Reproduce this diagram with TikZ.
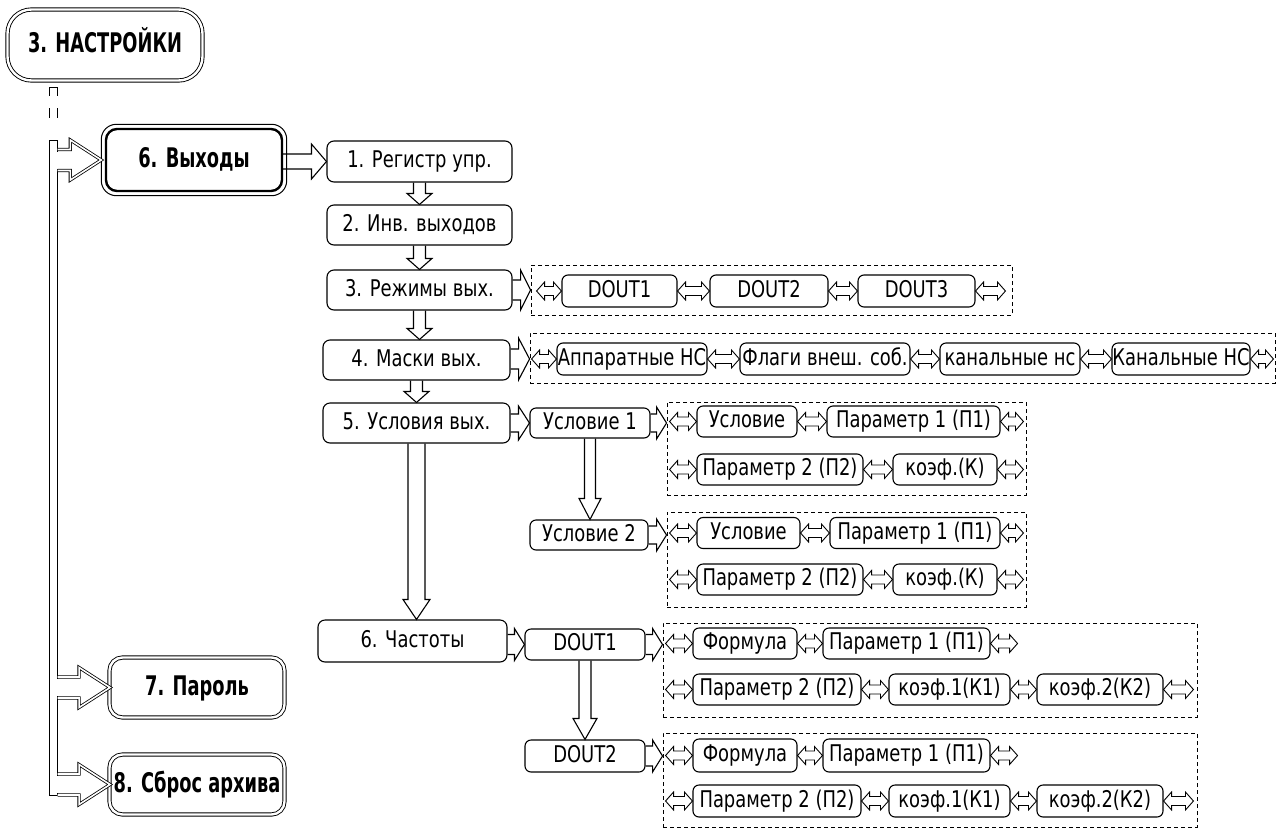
\documentclass[tikz,border=0pt]{standalone}
\usepackage{fontspec}
\setmainfont{DejaVu Sans}[FakeStretch=0.78]
\newfontfamily\bfam{DejaVu Sans}[FakeStretch=0.66]
\usetikzlibrary{calc}
\newcommand\fs{\fontsize{23}{26}\selectfont}
\newcommand\bfs{\bfam\bfseries\fontsize{27}{30}\selectfont}
\tikzset{
 mbox/.style={draw, line width=1.1pt, rounded corners=7pt, inner sep=0pt, font=\fs, text height=17pt, text depth=5pt},
 sbox/.style={draw, line width=1.1pt, rounded corners=6pt, inner sep=0pt, font=\fs, text height=17pt, text depth=5pt, minimum height=31},
 dbox/.style={draw, line width=0.9pt, dash pattern=on 4pt off 3pt, inner sep=0pt},
 bbox/.style={draw, line width=0.9pt, double, double distance=2.4pt, inner sep=0pt, font=\bfs, text height=20pt, text depth=5pt},
 blk/.style={draw, line width=1.1pt, line join=miter},
 dblk/.style={draw, line width=0.8pt, double, double distance=1.6pt},
}
\newcommand\harr[5]{\draw[blk] let \p1=(#1), \p2=(#2) in (\x1,\y1+#3pt) -- (\x2-#5pt,\y1+#3pt) -- (\x2-#5pt,\y1+#4pt) -- (\x2,\y1) -- (\x2-#5pt,\y1-#4pt) -- (\x2-#5pt,\y1-#3pt) -- (\x1,\y1-#3pt);}
\newcommand\varr[5]{\draw[blk] let \p1=(#1), \p2=(#2) in (\x1-#3pt,\y1) -- (\x1-#3pt,\y2+#5pt) -- (\x1-#4pt,\y2+#5pt) -- (\x1,\y2) -- (\x1+#4pt,\y2+#5pt) -- (\x1+#3pt,\y2+#5pt) -- (\x1+#3pt,\y1);}
\newcommand\dbl[3]{\draw[blk, line width=0.9pt] let \p1=(#1), \p2=(#2), \p3=(#3) in (\x1,\y3) -- (\x1+8pt,\y3+9pt) -- (\x1+8pt,\y3+4.5pt) -- (\x2-8pt,\y3+4.5pt) -- (\x2-8pt,\y3+9pt) -- (\x2,\y3) -- (\x2-8pt,\y3-9pt) -- (\x2-8pt,\y3-4.5pt) -- (\x1+8pt,\y3-4.5pt) -- (\x1+8pt,\y3-9pt) -- cycle;}
\newcommand\larr[2]{%
 \fill[white] let \p1=(bar.east |- #1.west) in (\x1-1.2pt,\y1-8.5pt) rectangle (\x1+1.2pt,\y1+8.5pt);
 \draw[dblk] let \p1=(bar.east |- #1.west), \p2=(#1.west), \n1={\x2+#2pt} in (\x1,\y1+10.5pt) -- (\n1-31pt,\y1+10.5pt) -- (\n1-31pt,\y1+20pt) -- (\n1,\y1) -- (\n1-31pt,\y1-20pt) -- (\n1-31pt,\y1-10.5pt) -- (\x1,\y1-10.5pt);}
\begin{document}
\begin{tikzpicture}[x=1pt,y=-1pt]
\fill[white] (0,0) rectangle (1288,828);
\useasboundingbox (0,0) rectangle (1288,828);

% left column
\node[bbox, rounded corners=24pt, minimum width=195, minimum height=71] (n3) at (105,45) {3. НАСТРОЙКИ};
\node[draw, line width=2.4pt, rounded corners=11pt, inner sep=0pt, font=\bfs, text height=20pt, text depth=5pt, minimum width=176, minimum height=62] (b6) at (194,160) {6. Выходы};
\draw[line width=1pt, rounded corners=15pt] ([shift={(-3.5pt,3.5pt)}]b6.north west) rectangle ([shift={(3.5pt,-3.5pt)}]b6.south east);
\node[bbox, rounded corners=13pt, minimum width=175, minimum height=60] (b7) at (197,687.5) {7. Пароль};
\node[bbox, rounded corners=13pt, minimum width=175, minimum height=60] (b8) at (197,784.5) {8. Сброс архива};

\node[draw, line width=1pt, minimum width=8, minimum height=655, inner sep=0pt] (bar) at (53,467.5) {};
\draw[line width=1pt] ([shift={(-4pt,44pt)}]bar.north) -- ([shift={(-4pt,52pt)}]bar.north) -- ([shift={(4pt,52pt)}]bar.north) -- ([shift={(4pt,44pt)}]bar.north);
\draw[line width=1pt] ([shift={(-4pt,22pt)}]bar.north) -- ([shift={(-4pt,32pt)}]bar.north) ([shift={(4pt,22pt)}]bar.north) -- ([shift={(4pt,32pt)}]bar.north);
\larr{b6}{-3.5}
\larr{b7}{1}
\larr{b8}{1}

% middle column
\node[mbox, minimum width=185, minimum height=41] (r1) at (419.5,161.5) {1. Регистр упр.};
\node[mbox, minimum width=185, minimum height=40] (r2) at (419.5,225) {2. Инв. выходов};
\node[mbox, minimum width=185, minimum height=40] (r3) at (419.5,290) {3. Режимы вых.};
\node[mbox, minimum width=187, minimum height=40] (r4) at (416.5,360) {4. Маски вых.};
\node[mbox, minimum width=187, minimum height=40] (r5) at (416.5,423) {5. Условия вых.};
\node[mbox, minimum width=189, minimum height=42] (r6) at (412.5,641) {6. Частоты};

\harr{b6.east |- r1.west}{r1.west}{7.5}{17.5}{15}
\varr{r1.south}{r2.north}{6}{12.5}{11}
\varr{r2.south}{r3.north}{6}{12.5}{11}
\varr{r3.south}{r4.north}{6}{12.5}{11}
\varr{r4.south}{r5.north}{6}{12.5}{11}
\varr{r5.south}{r6.north}{8.5}{13.5}{20}

% row 3
\node[dbox, minimum width=481, minimum height=50] (dr3) at (771.5,290) {};
\node[sbox, minimum width=115, minimum height=32] (d31) at (619.5,291) {DOUT1};
\node[sbox, minimum width=118, minimum height=32] (d32) at (769,291) {DOUT2};
\node[sbox, minimum width=117, minimum height=32] (d33) at (916.5,291) {DOUT3};
\coordinate (r3s) at ($(dr3.west)+(6,0)$);
\coordinate (r3e) at ($(dr3.east)+(-7,0)$);
\harr{r3.east}{dr3.west}{10}{20}{10}
\dbl{r3s}{d31.west}{d31}
\dbl{d31.east}{d32.west}{d31}
\dbl{d32.east}{d33.west}{d32}
\dbl{d33.east}{r3e}{d33}

% row 4
\node[dbox, minimum width=745, minimum height=50] (dr4) at (902.5,358) {};
\node[sbox, minimum width=150, minimum height=32] (m1) at (632,359) {Аппаратные НС};
\node[sbox, minimum width=170, minimum height=32] (m2) at (825,359) {Флаги внеш. соб.};
\node[sbox, minimum width=140, minimum height=32] (m3) at (1010,359) {канальные нс};
\node[sbox, minimum width=138, minimum height=32] (m4) at (1181,359) {Канальные НС};
\coordinate (r4s) at ($(dr4.west)+(2,0)$);
\coordinate (r4e) at ($(dr4.east)+(-2,0)$);
\harr{r4.east |- m1.west}{dr4.west}{10}{21}{11}
\dbl{r4s}{m1.west}{m1}
\dbl{m1.east}{m2.west}{m1}
\dbl{m2.east}{m3.west}{m2}
\dbl{m3.east}{m4.west}{m3}
\dbl{m4.east}{r4e}{m4}

% row 5
\node[sbox, minimum width=120, minimum height=30] (u1) at (590,423) {Условие 1};
\node[sbox, minimum width=118, minimum height=30] (u2) at (589,535) {Условие 2};
\harr{r5.east |- u1.west}{u1.west}{9}{17}{11}
\varr{u1.south}{u2.north}{5.5}{11}{21}

\node[dbox, minimum width=359, minimum height=93] (dA) at (846.5,448.5) {};
\node[sbox, minimum width=100] (a1) at (747,421.5) {Условие};
\node[sbox, minimum width=173] (a2) at (913.5,421.5) {Параметр 1 (П1)};
\node[sbox, minimum width=166] (a3) at (780,469.5) {Параметр 2 (П2)};
\node[sbox, minimum width=104] (a4) at (945,469.5) {коэф.(К)};
\coordinate (As) at ($(dA.west)+(3,0)$);
\coordinate (Ae) at ($(dA.east)+(-3,0)$);
\harr{u1.east}{dA.west |- u1.east}{9}{16}{10}
\dbl{As}{a1.west}{a1}
\dbl{a1.east}{a2.west}{a1}
\dbl{a2.east}{Ae}{a2}
\dbl{As}{a3.west}{a3}
\dbl{a3.east}{a4.west}{a3}
\dbl{a4.east}{Ae}{a4}

\node[dbox, minimum width=359, minimum height=95] (dB) at (846.5,559.5) {};
\node[sbox, minimum width=103] (bb1) at (748.5,533) {Условие};
\node[sbox, minimum width=170] (bb2) at (915,533) {Параметр 1 (П1)};
\node[sbox, minimum width=166] (bb3) at (780,579.5) {Параметр 2 (П2)};
\node[sbox, minimum width=104] (bb4) at (945,579.5) {коэф.(К)};
\coordinate (Bs) at ($(dB.west)+(3,0)$);
\coordinate (Be) at ($(dB.east)+(-3,0)$);
\harr{u2.east}{dB.west |- u2.east}{9}{16}{10}
\dbl{Bs}{bb1.west}{bb1}
\dbl{bb1.east}{bb2.west}{bb1}
\dbl{bb2.east}{Be}{bb2}
\dbl{Bs}{bb3.west}{bb3}
\dbl{bb3.east}{bb4.west}{bb3}
\dbl{bb4.east}{Be}{bb4}

% row 6
\node[sbox, minimum width=120, minimum height=31] (f1) at (585,644.5) {DOUT1};
\node[sbox, minimum width=120, minimum height=32] (f2) at (585,756) {DOUT2};
\harr{r6.east |- f1.west}{f1.west}{10}{16}{10}
\varr{f1.south}{f2.north}{6}{12}{21}

\node[dbox, minimum width=534, minimum height=94] (dC) at (930,670) {};
\node[sbox, minimum width=104] (c1) at (745,643.5) {Формула};
\node[sbox, minimum width=167] (c2) at (906.5,643.5) {Параметр 1 (П1)};
\node[sbox, minimum width=168] (c3) at (777,689.5) {Параметр 2 (П2)};
\node[sbox, minimum width=121] (c4) at (949.5,689.5) {коэф.1(К1)};
\node[sbox, minimum width=126] (c5) at (1100,689.5) {коэф.2(К2)};
\coordinate (Cs) at ($(dC.west)+(3,0)$);
\coordinate (Ce) at ($(dC.east)+(-4,0)$);
\coordinate (C1e) at ($(c2.east)+(27,0)$);
\harr{f1.east}{dC.west |- f1.east}{10}{16}{10}
\dbl{Cs}{c1.west}{c1}
\dbl{c1.east}{c2.west}{c1}
\dbl{c2.east}{C1e}{c2}
\dbl{Cs}{c3.west}{c3}
\dbl{c3.east}{c4.west}{c3}
\dbl{c4.east}{c5.west}{c4}
\dbl{c5.east}{Ce}{c5}

\node[dbox, minimum width=534, minimum height=94] (dD) at (930,780) {};
\node[sbox, minimum width=104, minimum height=33] (e1) at (745,755.5) {Формула};
\node[sbox, minimum width=167, minimum height=33] (e2) at (906.5,755.5) {Параметр 1 (П1)};
\node[sbox, minimum width=168, minimum height=32] (e3) at (777,801) {Параметр 2 (П2)};
\node[sbox, minimum width=121, minimum height=32] (e4) at (949.5,801) {коэф.1(К1)};
\node[sbox, minimum width=126, minimum height=32] (e5) at (1100,801) {коэф.2(К2)};
\coordinate (Ds) at ($(dD.west)+(3,0)$);
\coordinate (De) at ($(dD.east)+(-4,0)$);
\coordinate (D1e) at ($(e2.east)+(27,0)$);
\harr{f2.east}{dD.west |- f2.east}{10}{16}{10}
\dbl{Ds}{e1.west}{e1}
\dbl{e1.east}{e2.west}{e1}
\dbl{e2.east}{D1e}{e2}
\dbl{Ds}{e3.west}{e3}
\dbl{e3.east}{e4.west}{e3}
\dbl{e4.east}{e5.west}{e4}
\dbl{e5.east}{De}{e5}
\end{tikzpicture}
\end{document}
